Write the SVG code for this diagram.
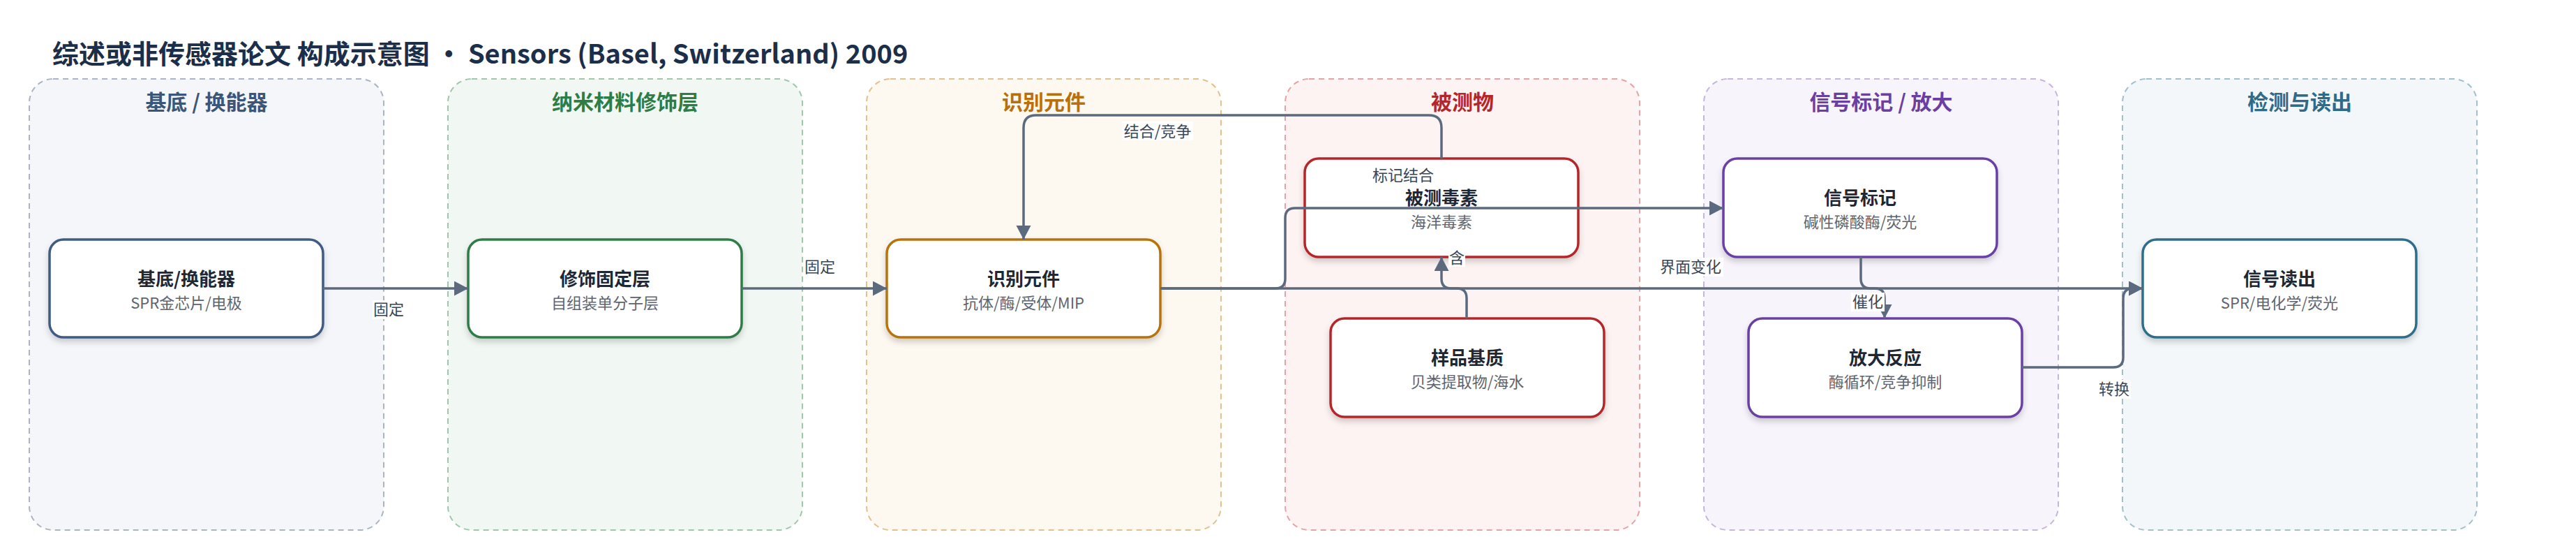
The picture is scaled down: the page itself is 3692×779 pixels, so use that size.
<svg xmlns="http://www.w3.org/2000/svg" width="3692" height="779" viewBox="0 0 3692 779">
<defs>
<style>
text{font-family:"Noto Sans CJK SC","Noto Sans",sans-serif}
.title{font-size:38px;font-weight:700;fill:#1c2f4a}
.ctitle{font-size:30px;font-weight:700;text-anchor:middle}
.cl{stroke-width:2;stroke-dasharray:8 6}
.node{fill:#fff;stroke-width:3.5;filter:url(#sh)}
.nt{font-size:26px;font-weight:700;fill:#1e2733;text-anchor:middle}
.ns{font-size:22px;fill:#5d6570;text-anchor:middle}
.edge{fill:none;stroke:#5b6a7e;stroke-width:3.5}
.lbl{font-size:22px;fill:#3a4656;text-anchor:middle}
.lb{fill:#fff}
</style>
<filter id="sh" x="-10%" y="-10%" width="120%" height="130%">
<feDropShadow dx="0" dy="5" stdDeviation="4" flood-color="#000" flood-opacity="0.18"/>
</filter>
<marker id="ar" markerUnits="userSpaceOnUse" markerWidth="22" markerHeight="22" refX="20" refY="10.5" orient="auto">
<path d="M0,0 L20,10.5 L0,21 z" fill="#5b6a7e"/>
</marker>
</defs>
<rect width="3692" height="779" fill="#fff"/>
<text class="title" x="75" y="91">综述或非传感器论文 构成示意图 · Sensors (Basel, Switzerland) 2009</text>

<g id="cluster-substrate">
<rect class="cl" x="42" y="113" width="508" height="646" rx="34" fill="#f4f6fa" stroke="#a9b5c6"/>
<text class="ctitle" x="296" y="157" fill="#3b5678">基底 / 换能器</text>
</g>
<g id="cluster-nano">
<rect class="cl" x="642" y="113" width="508" height="646" rx="34" fill="#f1f8f3" stroke="#9fc8ab"/>
<text class="ctitle" x="896" y="157" fill="#2e7d46">纳米材料修饰层</text>
</g>
<g id="cluster-recog">
<rect class="cl" x="1242" y="113" width="508" height="646" rx="34" fill="#fdf8f0" stroke="#e3c08e"/>
<text class="ctitle" x="1496" y="157" fill="#b8700c">识别元件</text>
</g>
<g id="cluster-analyte">
<rect class="cl" x="1842" y="113" width="508" height="646" rx="34" fill="#fdf3f2" stroke="#e6a3a3"/>
<text class="ctitle" x="2096" y="157" fill="#b3262a">被测物</text>
</g>
<g id="cluster-signal">
<rect class="cl" x="2442" y="113" width="508" height="646" rx="34" fill="#f7f4fb" stroke="#c7b5de"/>
<text class="ctitle" x="2696" y="157" fill="#6a3ea3">信号标记 / 放大</text>
</g>
<g id="cluster-readout">
<rect class="cl" x="3042" y="113" width="508" height="646" rx="34" fill="#f3f7f9" stroke="#a0c0cc"/>
<text class="ctitle" x="3296" y="157" fill="#2f6a86">检测与读出</text>
</g>

<g id="n1">
<rect class="node" x="71" y="343" width="392" height="140" rx="20" stroke="#3f5b84"/>
<text class="nt" x="267" y="409">基底/换能器</text>
<text class="ns" x="267" y="442">SPR金芯片/电极</text>
</g>
<g id="n2">
<rect class="node" x="671" y="343" width="392" height="140" rx="20" stroke="#2e7d46"/>
<text class="nt" x="867" y="409">修饰固定层</text>
<text class="ns" x="867" y="442">自组装单分子层</text>
</g>
<g id="n3">
<rect class="node" x="1271" y="343" width="392" height="140" rx="20" stroke="#b8730e"/>
<text class="nt" x="1467" y="409">识别元件</text>
<text class="ns" x="1467" y="442">抗体/酶/受体/MIP</text>
</g>
<g id="n4">
<rect class="node" x="1870" y="227" width="392" height="141" rx="20" stroke="#b5282a"/>
<text class="nt" x="2066" y="293">被测毒素</text>
<text class="ns" x="2066" y="326">海洋毒素</text>
</g>
<g id="n5">
<rect class="node" x="1907" y="456" width="392" height="141" rx="20" stroke="#b5282a"/>
<text class="nt" x="2103" y="522">样品基质</text>
<text class="ns" x="2103" y="555">贝类提取物/海水</text>
</g>
<g id="n6">
<rect class="node" x="2470" y="227" width="392" height="141" rx="20" stroke="#6b3fa4"/>
<text class="nt" x="2666" y="293">信号标记</text>
<text class="ns" x="2666" y="326">碱性磷酸酶/荧光</text>
</g>
<g id="n7">
<rect class="node" x="2506" y="456" width="392" height="141" rx="20" stroke="#6b3fa4"/>
<text class="nt" x="2702" y="522">放大反应</text>
<text class="ns" x="2702" y="555">酶循环/竞争抑制</text>
</g>
<g id="n8">
<rect class="node" x="3071" y="343" width="392" height="140" rx="20" stroke="#2f6d8c"/>
<text class="nt" x="3267" y="409">信号读出</text>
<text class="ns" x="3267" y="442">SPR/电化学/荧光</text>
</g>

<g id="edges">
<path class="edge" marker-end="url(#ar)" d="M463,413 H671"/>
<path class="edge" marker-end="url(#ar)" d="M1063,413 H1271"/>
<path class="edge" marker-end="url(#ar)" d="M2066,227 V183 Q2066,165 2048,165 H1485 Q1467,165 1467,183 V343"/>
<path class="edge" marker-end="url(#ar)" d="M1663,413 H1828 Q1842,413 1842,399 V312 Q1842,298 1856,298 H2470"/>
<path class="edge" marker-end="url(#ar)" d="M1663,413 H3071"/>
<path class="edge" marker-end="url(#ar)" d="M2102,456 V427 Q2102,413 2088,413 H2080 Q2066,413 2066,399 V368"/>
<path class="edge" marker-end="url(#ar)" d="M2667,368 V399 Q2667,413 2681,413 H2687 Q2701,413 2701,427 V456"/>
<path class="edge" marker-end="url(#ar)" d="M2898,526 H3029 Q3043,526 3043,512 V427 Q3043,413 3057,413 H3071"/>
<rect class="lb" x="534" y="430" width="46" height="27"/>
<text class="lbl" x="557" y="451">固定</text>
<rect class="lb" x="1152" y="369" width="46" height="27"/>
<text class="lbl" x="1175" y="390">固定</text>
<rect class="lb" x="1608" y="174" width="102" height="27"/>
<text class="lbl" x="1659" y="196">结合/竞争</text>
<text class="lbl" x="2011" y="259">标记结合</text>
<rect class="lb" x="2376" y="369" width="94" height="27"/>
<text class="lbl" x="2423" y="390">界面变化</text>
<rect class="lb" x="2076" y="356" width="24" height="26"/>
<text class="lbl" x="2088" y="377">含</text>
<rect class="lb" x="2653" y="419" width="48" height="27"/>
<text class="lbl" x="2677" y="440">催化</text>
<rect class="lb" x="3006" y="544" width="48" height="27"/>
<text class="lbl" x="3030" y="565">转换</text>
</g>
</svg>
